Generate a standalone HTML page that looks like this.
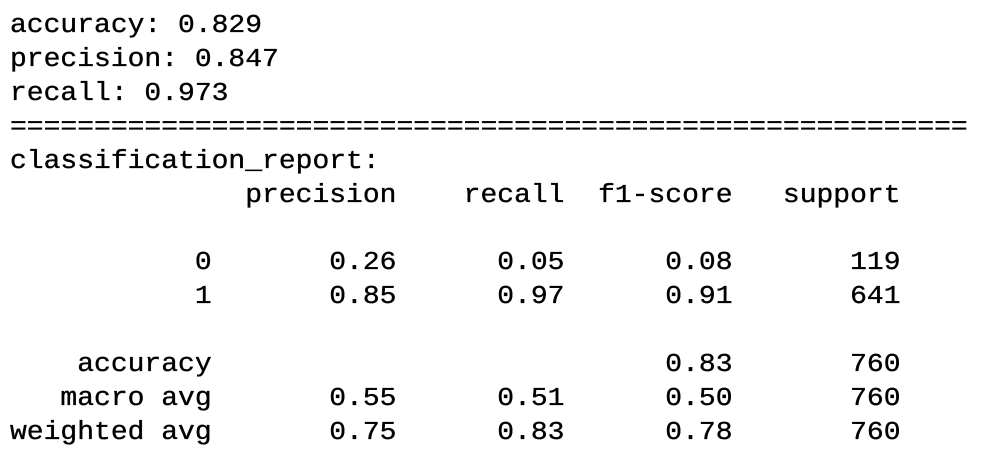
<!DOCTYPE html>
<html>
<head>
<meta charset="utf-8">
<style>
html,body{margin:0;padding:0;background:#fff;width:998px;height:474px;overflow:hidden}
#report{position:absolute;left:10px;top:9px;margin:0;font-family:"Liberation Mono","DejaVu Sans Mono",monospace;font-size:25.5px;line-height:33.9px;color:#000;white-space:pre;transform:scaleX(1.098);transform-origin:0 0;-webkit-text-stroke:0.35px #000}
</style>
</head>
<body>
<pre id="report">accuracy: 0.829
precision: 0.847
recall: 0.973
=========================================================
classification_report:
              precision    recall  f1-score   support

           0       0.26      0.05      0.08       119
           1       0.85      0.97      0.91       641

    accuracy                           0.83       760
   macro avg       0.55      0.51      0.50       760
weighted avg       0.75      0.83      0.78       760</pre>
</body>
</html>
